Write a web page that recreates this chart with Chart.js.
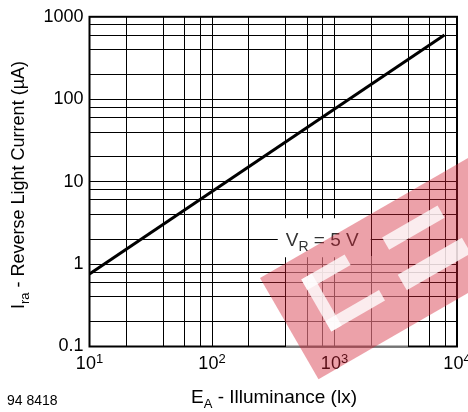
<!DOCTYPE html>
<html>
<head>
<meta charset="utf-8">
<script src="https://cdn.jsdelivr.net/npm/chart.js@4/dist/chart.umd.min.js"></script>
<style>
html,body{margin:0;padding:0;background:#fff;}
canvas{display:block;}
</style>
</head>
<body>
<canvas id="c" width="468" height="412"></canvas>
<script>
// ---- data ----
const illuminance = [10, 7900];          // lx
const reverseCurrent = [0.76, 600];      // µA
const xTickValues = [10,20,40,60,80,100,200,400,600,800,1000,2000,4000,6000,8000,10000];
const yTickValues = [0.1,0.2,0.4,0.6,0.8,1,2,4,6,8,10,20,40,60,80,100,200,400,600,800,1000];
const xDecades = [10,100,1000,10000];
const xDecadeExponents = ['1','2','3','4'];
const yDecades = [0.1,1,10,100,1000];
const yDecadeLabels = ['0.1','1','10','100','1000'];
const xTitle = [['E',0],['A',1],[' - Illuminance (lx)',0]];
const yTitle = [['I',0],['ra',1],[' - Reverse Light Current (µA)',0]];
const curveLabel = [['V',0],['R',1],[' = 5 V',0]];
const labelAnchor = {x: 400, y: 2};
const figureId = '94 8418';

const FONT = '"Liberation Sans", Arial, Helvetica, sans-serif';

function richWidth(ctx, parts, big, small){
  let w = 0;
  for (const [t, sub] of parts){
    ctx.font = (sub ? small : big) + 'px ' + FONT;
    w += ctx.measureText(t).width;
  }
  return w;
}
function drawRich(ctx, parts, x, y, big, small, subDy, align){
  const w = richWidth(ctx, parts, big, small);
  let cx = align === 'center' ? x - w/2 : x;
  ctx.textBaseline = 'alphabetic';
  ctx.textAlign = 'left';
  for (const [t, sub] of parts){
    ctx.font = (sub ? small : big) + 'px ' + FONT;
    ctx.fillText(t, cx, y + (sub ? subDy : 0));
    cx += ctx.measureText(t).width;
  }
  return w;
}

const decor = {
  id: 'decor',
  beforeDraw(chart){
    const ctx = chart.ctx;
    ctx.save();
    ctx.fillStyle = '#fff';
    ctx.fillRect(0,0,chart.width,chart.height);
    ctx.restore();
  },
  afterDraw(chart){
    const ctx = chart.ctx;
    const a = chart.chartArea;
    const xs = chart.scales.x, ys = chart.scales.y;
    ctx.save();
    // curve label with white box
    const lx = xs.getPixelForValue(labelAnchor.x);
    const ly = ys.getPixelForValue(labelAnchor.y);
    const lw = richWidth(ctx, curveLabel, 19, 14);
    ctx.fillStyle = '#fff';
    ctx.fillRect(lx - 8, ly - 21, lw + 20, 39);
    ctx.fillStyle = '#333';
    drawRich(ctx, curveLabel, lx, ly + 7, 19, 14, 5, 'left');

    // frame
    ctx.strokeStyle = '#000';
    ctx.lineWidth = 2;
    ctx.strokeRect(a.left, a.top, a.right - a.left, a.bottom - a.top);

    // x tick labels 10^n
    ctx.fillStyle = '#000';
    xDecades.forEach((v, i) => {
      const px = xs.getPixelForValue(v);
      ctx.font = '18px ' + FONT;
      const w1 = ctx.measureText('10').width;
      ctx.font = '13px ' + FONT;
      const w2 = ctx.measureText(xDecadeExponents[i]).width;
      const sx = px - (w1 + w2)/2;
      ctx.textAlign = 'left'; ctx.textBaseline = 'alphabetic';
      ctx.font = '18px ' + FONT;
      ctx.fillText('10', sx, a.bottom + 22);
      ctx.font = '13px ' + FONT;
      ctx.fillText(xDecadeExponents[i], sx + w1, a.bottom + 16);
    });

    // axis titles
    ctx.fillStyle = '#000';
    drawRich(ctx, xTitle, 274, 403, 19, 13, 5, 'center');
    ctx.save();
    ctx.translate(24, 185);
    ctx.rotate(-Math.PI/2);
    drawRich(ctx, yTitle, 0, 0, 18, 13, 5, 'center');
    ctx.restore();
    ctx.font = '14px ' + FONT;
    ctx.textAlign = 'left';
    ctx.fillText(figureId, 7, 405);

    // watermark
    ctx.fillStyle = 'rgba(255,255,255,0.45)';
    ctx.fillRect(286, 256, 122, 91);
    ctx.save();
    ctx.translate(260, 278);
    ctx.rotate(-Math.PI/6);
    ctx.fillStyle = 'rgba(210,30,50,0.42)';
    ctx.fillRect(0, 0, 320, 117);
    ctx.fillStyle = 'rgba(255,255,255,0.8)';
    ctx.fillRect(35, 22, 50, 12);
    ctx.fillRect(35, 22, 12, 60);
    ctx.fillRect(35, 70, 62, 12);
    ctx.fillRect(126, 26, 64, 14);
    ctx.fillRect(121, 66, 74, 18);
    ctx.restore();
    ctx.restore();
  }
};

new Chart(document.getElementById('c'), {
  type: 'scatter',
  data: {
    datasets: [{
      data: illuminance.map((x, i) => ({x, y: reverseCurrent[i]})),
      showLine: true,
      borderColor: '#000',
      borderWidth: 3,
      pointRadius: 0,
      tension: 0,
      fill: false
    }]
  },
  options: {
    responsive: false,
    animation: false,
    devicePixelRatio: 1,
    layout: {padding: {left: 29.5, right: 11, top: 14.5, bottom: 0}},
    plugins: {legend: {display: false}, tooltip: {enabled: false}},
    scales: {
      x: {
        type: 'logarithmic',
        min: 10, max: 10000,
        afterBuildTicks(s){ s.ticks = xTickValues.map(v => ({value: v})); },
        afterFit(s){ s.height = 65.5; },
        ticks: {display: false, autoSkip: false},
        grid: {color: '#000', lineWidth: 1, drawTicks: false},
        border: {display: false}
      },
      y: {
        type: 'logarithmic',
        min: 0.1, max: 1000,
        afterBuildTicks(s){ s.ticks = yTickValues.map(v => ({value: v})); },
        afterFit(s){ s.width = 60; },
        ticks: {
          autoSkip: false,
          padding: 6,
          color: '#000',
          font: {family: FONT, size: 18},
          callback(v){
            const i = yDecades.findIndex(d => Math.abs(d - v) / d < 1e-6);
            return i >= 0 ? yDecadeLabels[i] : '';
          }
        },
        grid: {color: '#000', lineWidth: 1, drawTicks: false},
        border: {display: false}
      }
    }
  },
  plugins: [decor]
});
</script>
</body>
</html>
